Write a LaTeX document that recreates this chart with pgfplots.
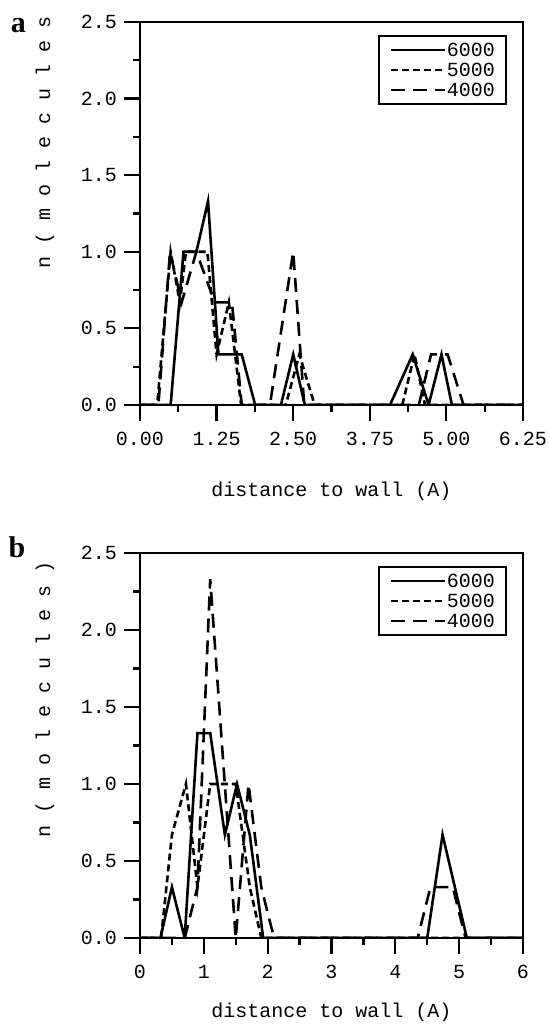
\documentclass[border=0pt]{standalone}
\usepackage{fontspec}
\setmainfont{Liberation Mono}
\newfontfamily\panelfont{Liberation Serif}
\usepackage{pgfplots}
\pgfplotsset{compat=1.18}

\pgfplotsset{
  panel/.style={
    scale only axis,
    width=191.5bp,
    xmin=0, ymin=0, ymax=2.5,
    axis line style={line width=1.3bp},
    tick align=outside, tick pos=left,
    major tick length=8bp, minor tick length=3.5bp,
    every tick/.style={black, line width=1.1bp},
    tick label style={font=\fontsize{10bp}{12bp}\selectfont},
    xticklabel style={yshift=-2bp},
    label style={font=\fontsize{10bp}{12bp}\selectfont},
    ytick={0,0.5,...,2.5},
    yticklabels={0.0,0.5,1.0,1.5,2.0,2.5},
    minor x tick num=1, minor y tick num=1,
    xlabel={distance to wall (A)},
    legend style={at={(1,1)}, anchor=north east, xshift=-8bp, yshift=-6.5bp,
      draw=black, line width=1.1bp, inner xsep=5bp, inner ysep=2bp,
      font=\fontsize{10bp}{12bp}\selectfont,
      nodes={inner xsep=0.5bp, inner ysep=1bp, text height=7bp, text depth=1bp}},
    legend cell align=left,
    legend image code/.code={\draw[##1] (0bp,0bp) -- (27bp,0bp);},
  },
  s6000/.style={black, line width=1.3bp},
  s5000/.style={black, line width=1.3bp, dash pattern=on 3.5bp off 2bp},
  s4000/.style={black, line width=1.3bp, dash pattern=on 7bp off 4bp},
}

\begin{document}
\begin{tikzpicture}
\begin{axis}[panel, name=pa,
  height=191.5bp, xmax=6.25,
  xtick={0,1.25,2.5,3.75,5,6.25},
  xticklabels={0.00,1.25,2.50,3.75,5.00,6.25},
  xlabel style={at={(rel axis cs:0.5,0)}, anchor=center, yshift=-43bp},
  ylabel={n ( m o l e c u l e s},
  ylabel style={at={(rel axis cs:0,0.686)}, anchor=center, yshift=47.5bp},
]
\addplot[s6000] coordinates {
  (0,0) (0.5,0) (0.71,1.0) (0.92,1.0) (1.11,1.33) (1.28,0.33) (1.66,0.33) (1.88,0)
  (2.3,0) (2.5,0.33) (2.69,0) (4.08,0) (4.45,0.33) (4.71,0) (4.92,0.33) (5.09,0) (6.25,0)
};
\addplot[s5000] coordinates {
  (0,0) (0.28,0) (0.5,1.0) (0.65,0.67) (0.75,1.0) (1.1,1.0) (1.25,0.33) (1.45,0.67) (1.65,0)
  (2.38,0) (2.6,0.33) (2.85,0) (4.28,0) (4.48,0.33) (4.65,0) (6.25,0)
};
\addplot[s4000] coordinates {
  (0,0) (0.3,0) (0.49,1.0) (0.68,0.67) (0.92,1.0) (1.22,0.67) (1.5,0.67) (1.66,0)
  (2.12,0) (2.5,1.0) (2.68,0) (4.55,0) (4.75,0.33) (5.02,0.33) (5.28,0) (6.25,0)
};
\legend{6000,5000,4000}
\end{axis}

\begin{axis}[panel, name=pb,
  at={(pa.north west)}, anchor=north west, yshift=-265.5bp,
  height=192.5bp, xmax=6,
  xtick={0,1,...,6},
  xticklabels={0,1,2,3,4,5,6},
  xlabel style={at={(rel axis cs:0.5,0)}, anchor=center, yshift=-37bp},
  ylabel={n ( m o l e c u l e s )},
  ylabel style={at={(rel axis cs:0,0.62)}, anchor=center, yshift=47.5bp},
]
\addplot[s6000] coordinates {
  (0,0) (0.32,0) (0.5,0.33) (0.7,0) (0.9,1.33) (1.1,1.33) (1.33,0.67) (1.52,1.0) (1.72,0.67) (1.93,0)
  (4.5,0) (4.74,0.67) (5.12,0) (6,0)
};
\addplot[s5000] coordinates {
  (0,0) (0.33,0) (0.5,0.67) (0.72,1.0) (0.9,0.33) (1.1,1.0) (1.5,1.0) (1.72,0.33) (1.9,0) (6,0)
};
\addplot[s4000] coordinates {
  (0,0) (0.7,0) (0.9,0.33) (1.1,2.33) (1.5,0) (1.7,1.0) (1.9,0.33) (2.1,0)
  (4.35,0) (4.55,0.33) (4.9,0.33) (5.1,0) (6,0)
};
\legend{6000,5000,4000}
\end{axis}

\node[font=\panelfont\bfseries\fontsize{15bp}{17bp}\selectfont, anchor=center]
  at ([xshift=-60.75bp, yshift=-1.75bp]pa.north west) {a};
\node[font=\panelfont\bfseries\fontsize{15bp}{17bp}\selectfont, anchor=center]
  at ([xshift=-61.5bp, yshift=2.75bp]pb.north west) {b};

\pgfresetboundingbox
\useasboundingbox ([xshift=-70bp, yshift=11bp]pa.north west) rectangle ++(274.5bp,-513.5bp);
\end{tikzpicture}
\end{document}
